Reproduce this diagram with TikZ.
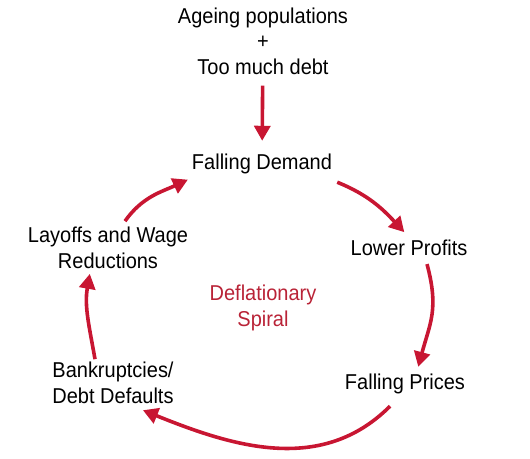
\documentclass[tikz,border=0pt]{standalone}
\usepackage{fontspec}
\setmainfont{Liberation Sans}[FakeStretch=0.93]
\usetikzlibrary{arrows.meta}
\definecolor{arrred}{RGB}{200,22,50}
\definecolor{txtred}{RGB}{185,35,55}
\begin{document}
\begin{tikzpicture}[x=1pt,y=-1pt,
  lbl/.style={font=\fontsize{21.5}{25.5}\selectfont, align=center, inner sep=3pt, text=black},
  redlbl/.style={lbl, text=txtred},
  arr/.style={draw=arrred, line width=3.6pt, -{Triangle[length=15pt,width=16pt]}, shorten >=1pt}]
\useasboundingbox (0,0) rectangle (530,458);
\node[lbl] (top) at (263,41) {Ageing populations\\+\\Too much debt};
\node[lbl] (fd) at (262,164) {Falling Demand};
\node[lbl] (lp) at (409,248) {Lower Profits};
\node[lbl] (fp) at (405,384) {Falling Prices};
\node[lbl] (bd) at (113,383) {Bankruptcies/\\Debt Defaults};
\node[lbl] (lw) at (108,248) {Layoffs and Wage\\Reductions};
\node[redlbl] (sp) at (263,308) {Deflationary\\Spiral};
\draw[arr, shorten <=8pt, shorten >=10pt] (top) -- (fd);
\draw[arr] ([shift={(2,5)}]fd.south east) to[out=-22, in=133] ([shift={(-4,-4)}]lp.north);
\draw[arr] ([shift={(18,5)}]lp.south) to[out=-75, in=75, looseness=1.15] ([shift={(13,-3)}]fp.north);
\draw[arr] ([shift={(-15,9)}]fp.south) to[out=-135, in=-22] ([shift={(29,3)}]bd.south);
\draw[arr] ([shift={(-18,0)}]bd.north) to[out=100, in=-100] ([shift={(-18,1)}]lw.south);
\draw[arr] ([shift={(17,-3)}]lw.north) to[out=55, in=-155] ([shift={(0,2)}]fd.south west);
\end{tikzpicture}
\end{document}
